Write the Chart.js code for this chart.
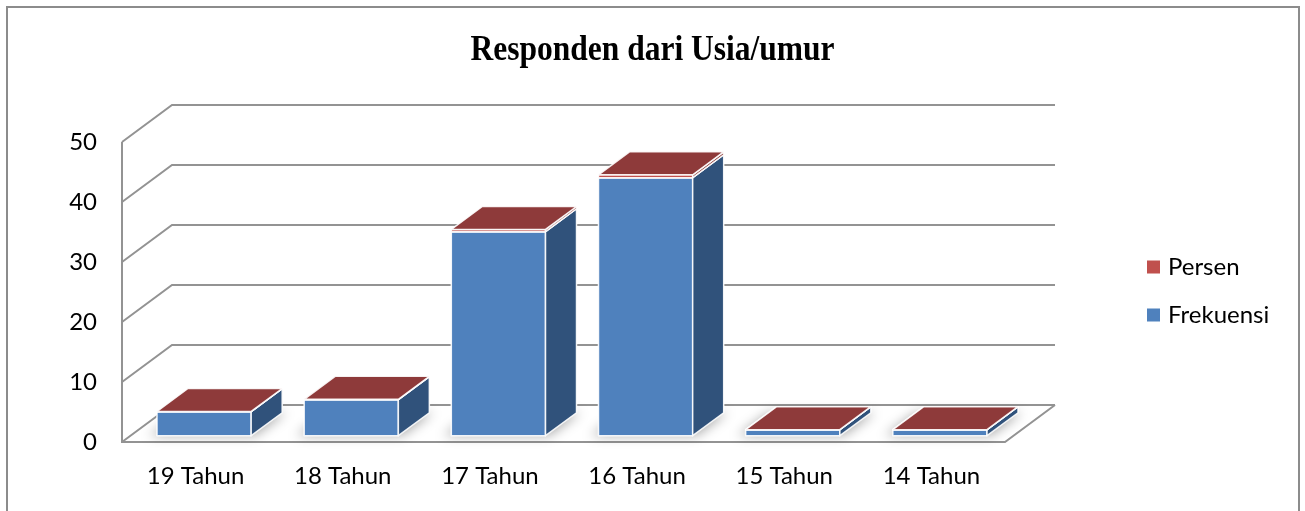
<!DOCTYPE html>
<html>
<head>
<meta charset="utf-8">
<script src="https://cdn.jsdelivr.net/npm/chart.js@4.4.1/dist/chart.umd.min.js"></script>
<style>
  html, body { margin: 0; padding: 0; background: #fff; }
  #wrap { width: 1305px; height: 511px; position: relative; }
</style>
</head>
<body>
<div id="wrap"><canvas id="usiaChart"></canvas></div>
<script>
// Data responden per usia
const categories = ['19 Tahun', '18 Tahun', '17 Tahun', '16 Tahun', '15 Tahun', '14 Tahun'];
const frekuensi = [4, 6, 34, 43, 1, 1];
const persen = [0.045, 0.067, 0.382, 0.483, 0.011, 0.011];
const yMin = 0;
const yMax = 50;
const yStep = 10;
const chartTitle = 'Responden dari Usia/umur';

// Kedalaman efek 3D (piksel) dan posisi batang di dalam kedalaman
const DEPTH_X = 50;
const DEPTH_Y = -37;
const BAR_FRONT = 0.17;
const BAR_BACK = 0.79;
const GRID_COLOR = '#939393';
const FONT = 'Lato, "Noto Sans", sans-serif';

const bar3d = {
    id: 'bar3d',
    beforeDatasetsDraw(chart) {
        const ctx = chart.ctx;
        const area = chart.chartArea;
        const yScale = chart.scales.y;
        const L = area.left, R = area.right;

        ctx.save();
        // bingkai luar
        ctx.strokeStyle = '#8c8c8c';
        ctx.lineWidth = 2;
        ctx.strokeRect(7, 7, 1292, 520);

        // judul (Times tebal, sedikit dipadatkan seperti aslinya)
        ctx.save();
        ctx.translate(chart.width / 2, 60);
        ctx.scale(0.9, 1);
        ctx.font = 'bold 35px "Liberation Serif", "Times New Roman", serif';
        ctx.fillStyle = '#000';
        ctx.textAlign = 'center';
        ctx.textBaseline = 'alphabetic';
        ctx.fillText(chartTitle, 0, 0);
        ctx.restore();

        // dinding belakang dan samping
        ctx.strokeStyle = GRID_COLOR;
        ctx.lineWidth = 2;
        yScale.ticks.forEach(t => {
            const y = yScale.getPixelForValue(t.value);
            ctx.beginPath();
            ctx.moveTo(L, y);
            ctx.lineTo(L + DEPTH_X, y + DEPTH_Y);
            ctx.lineTo(R + DEPTH_X, y + DEPTH_Y);
            ctx.stroke();
        });
        const y0 = yScale.getPixelForValue(0);
        ctx.beginPath();
        ctx.moveTo(L, yScale.getPixelForValue(yMax));
        ctx.lineTo(L, y0);
        ctx.lineTo(R, y0);
        ctx.lineTo(R + DEPTH_X, y0 + DEPTH_Y);
        ctx.stroke();

        // bayangan di lantai
        const base = chart.getDatasetMeta(0).data;
        ctx.save();
        ctx.filter = 'blur(6px)';
        ctx.fillStyle = 'rgba(0,0,0,0.32)';
        base.forEach(el => {
            const x1 = el.x - el.width / 2 - 8, x2 = el.x + el.width / 2 + 4;
            ctx.beginPath();
            ctx.moveTo(x1 + BAR_FRONT * DEPTH_X, y0 + BAR_FRONT * DEPTH_Y);
            ctx.lineTo(x2 + BAR_FRONT * DEPTH_X, y0 + BAR_FRONT * DEPTH_Y);
            ctx.lineTo(x2 + BAR_BACK * DEPTH_X, y0 + BAR_BACK * DEPTH_Y);
            ctx.lineTo(x1 + BAR_BACK * DEPTH_X, y0 + BAR_BACK * DEPTH_Y);
            ctx.closePath();
            ctx.fill();
        });
        ctx.restore();

        // batang 3D
        const ox = BAR_FRONT * DEPTH_X, oy = BAR_FRONT * DEPTH_Y;
        const dx = (BAR_BACK - BAR_FRONT) * DEPTH_X, dy = (BAR_BACK - BAR_FRONT) * DEPTH_Y;
        ctx.strokeStyle = 'rgba(255,255,255,0.9)';
        ctx.lineWidth = 1.5;
        ctx.lineJoin = 'round';
        categories.forEach((c, i) => {
            chart.data.datasets.forEach((ds, di) => {
                const el = chart.getDatasetMeta(di).data[i];
                const x1 = el.x - el.width / 2 + ox, x2 = el.x + el.width / 2 + ox;
                const yt = el.y + oy, yb = el.base + oy;
                // depan
                ctx.fillStyle = ds.backgroundColor;
                ctx.beginPath();
                ctx.rect(x1, yt, x2 - x1, yb - yt);
                ctx.fill();
                ctx.stroke();
                // samping
                ctx.fillStyle = ds.sideColor;
                ctx.beginPath();
                ctx.moveTo(x2, yb);
                ctx.lineTo(x2, yt);
                ctx.lineTo(x2 + dx, yt + dy);
                ctx.lineTo(x2 + dx, yb + dy);
                ctx.closePath();
                ctx.fill();
                ctx.stroke();
                // atas
                ctx.fillStyle = ds.topColor;
                ctx.beginPath();
                ctx.moveTo(x1, yt);
                ctx.lineTo(x2, yt);
                ctx.lineTo(x2 + dx, yt + dy);
                ctx.lineTo(x1 + dx, yt + dy);
                ctx.closePath();
                ctx.fill();
                ctx.stroke();
            });
        });

        // legenda (urutan terbalik seperti Excel)
        const items = chart.data.datasets.slice().reverse();
        ctx.font = '24px ' + FONT;
        ctx.textBaseline = 'middle';
        ctx.textAlign = 'left';
        items.forEach((ds, k) => {
            const cy = 267 + k * 48;
            ctx.fillStyle = ds.backgroundColor;
            ctx.fillRect(1147, cy - 6.5, 13, 13);
            ctx.fillStyle = '#000';
            ctx.fillText(ds.label, 1168, cy);
        });
        ctx.restore();
        return false;
    }
};

const ctx = document.getElementById('usiaChart').getContext('2d');
const usiaChart = new Chart(ctx, {
    type: 'bar',
    data: {
        labels: categories,
        datasets: [{
            label: 'Frekuensi',
            data: frekuensi,
            backgroundColor: '#4F81BD',
            sideColor: '#30527B',
            topColor: '#3C649A'
        }, {
            label: 'Persen',
            data: persen,
            backgroundColor: '#C0504D',
            sideColor: '#8A3836',
            topColor: '#8E3A3A'
        }]
    },
    options: {
        responsive: true,
        maintainAspectRatio: false,
        animation: false,
        layout: { padding: { left: 0, right: 300, top: 142, bottom: 0 } },
        datasets: {
            bar: { categoryPercentage: 1, barPercentage: 0.64 }
        },
        scales: {
            x: {
                stacked: true,
                grid: { display: false, drawTicks: false },
                border: { display: false },
                ticks: { color: '#000', padding: 20, font: { family: FONT, size: 24 } },
                afterFit: s => { s.height = 69; }
            },
            y: {
                stacked: true,
                min: yMin,
                max: yMax,
                grid: { display: false, drawTicks: false },
                border: { display: false },
                ticks: { stepSize: yStep, color: '#000', padding: 25, font: { family: FONT, size: 24 } },
                afterFit: s => { s.width = 122; }
            }
        },
        plugins: {
            legend: { display: false },
            tooltip: { enabled: false },
            title: { display: false }
        }
    },
    plugins: [bar3d]
});
</script>
</body>
</html>
